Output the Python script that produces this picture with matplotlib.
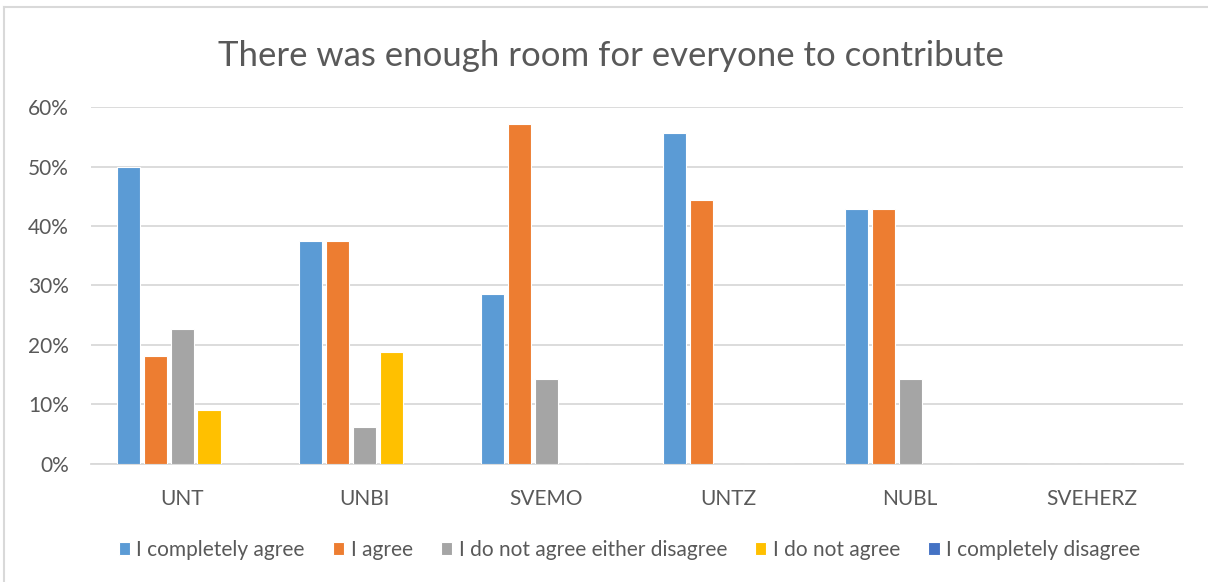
import numpy as np
import matplotlib
matplotlib.use("Agg")
from matplotlib import pyplot as plt
from matplotlib.lines import Line2D

categories = ["UNT", "UNBI", "SVEMO", "UNTZ", "NUBL", "SVEHERZ"]
series_names = ["I completely agree", "I agree", "I do not agree either disagree",
                "I do not agree", "I completely disagree"]
completely_agree = [0.500, 0.375, 0.286, 0.556, 0.429, 0.0]
agree = [0.182, 0.375, 0.571, 0.444, 0.429, 0.0]
neutral = [0.227, 0.0625, 0.143, 0.0, 0.143, 0.0]
not_agree = [0.091, 0.1875, 0.0, 0.0, 0.0, 0.0]
completely_disagree = [0.0, 0.0, 0.0, 0.0, 0.0, 0.0]
colors = ["#5B9BD5", "#ED7D31", "#A5A5A5", "#FFC000", "#4472C4"]

plt.rcParams['font.family'] = ['Lato', 'DejaVu Sans']

fig = plt.figure(figsize=(12.08, 5.82), dpi=100)
ax = fig.add_axes([0.0755, 0.203, 0.904, 0.613])

x = np.arange(len(categories))
step = 0.148
width = 0.128
data = [completely_agree, agree, neutral, not_agree, completely_disagree]
for i, (vals, name, c) in enumerate(zip(data, series_names, colors)):
    ax.bar(x + (i - 2) * step, vals, width, color=c, label=name,
           edgecolor="white", linewidth=0.8, zorder=3)

ax.set_xlim(-0.5, len(categories) - 0.5)
ax.set_ylim(0, 0.6)
ax.set_yticks(np.arange(0, 0.61, 0.1))
ax.set_yticklabels([f"{int(round(v * 100))}%" for v in np.arange(0, 0.61, 0.1)])
ax.set_xticks(x)
ax.set_xticklabels(categories)
ax.tick_params(axis="both", length=0, labelsize=15, colors="#595959")
ax.tick_params(axis="x", pad=18)
ax.tick_params(axis="y", pad=16)
ax.grid(axis="y", color="#D9D9D9", linewidth=1.3, zorder=0)
for s in ["top", "right", "left"]:
    ax.spines[s].set_visible(False)
ax.spines["bottom"].set_color("#D9D9D9")
ax.spines["bottom"].set_linewidth(1.3)

fig.text(0.506, 0.903, "There was enough room for everyone to contribute", fontsize=25,
         color="#595959", ha="center", va="center")

fig.legend(loc="center", bbox_to_anchor=(0.521, 1 - 550 / 582), ncol=5, frameon=False,
           fontsize=15, labelcolor="#595959", handlelength=0.55, handleheight=0.55,
           handletextpad=0.3, columnspacing=1.35)

# chart area border (top and left edges visible)
fig.add_artist(Line2D([0.0035, 1.0], [0.988, 0.988], color="#D9D9D9", linewidth=1.5,
                      transform=fig.transFigure))
fig.add_artist(Line2D([0.0035, 0.0035], [0.0, 0.988], color="#D9D9D9", linewidth=1.5,
                      transform=fig.transFigure))

fig.savefig("out.png", dpi=100)
